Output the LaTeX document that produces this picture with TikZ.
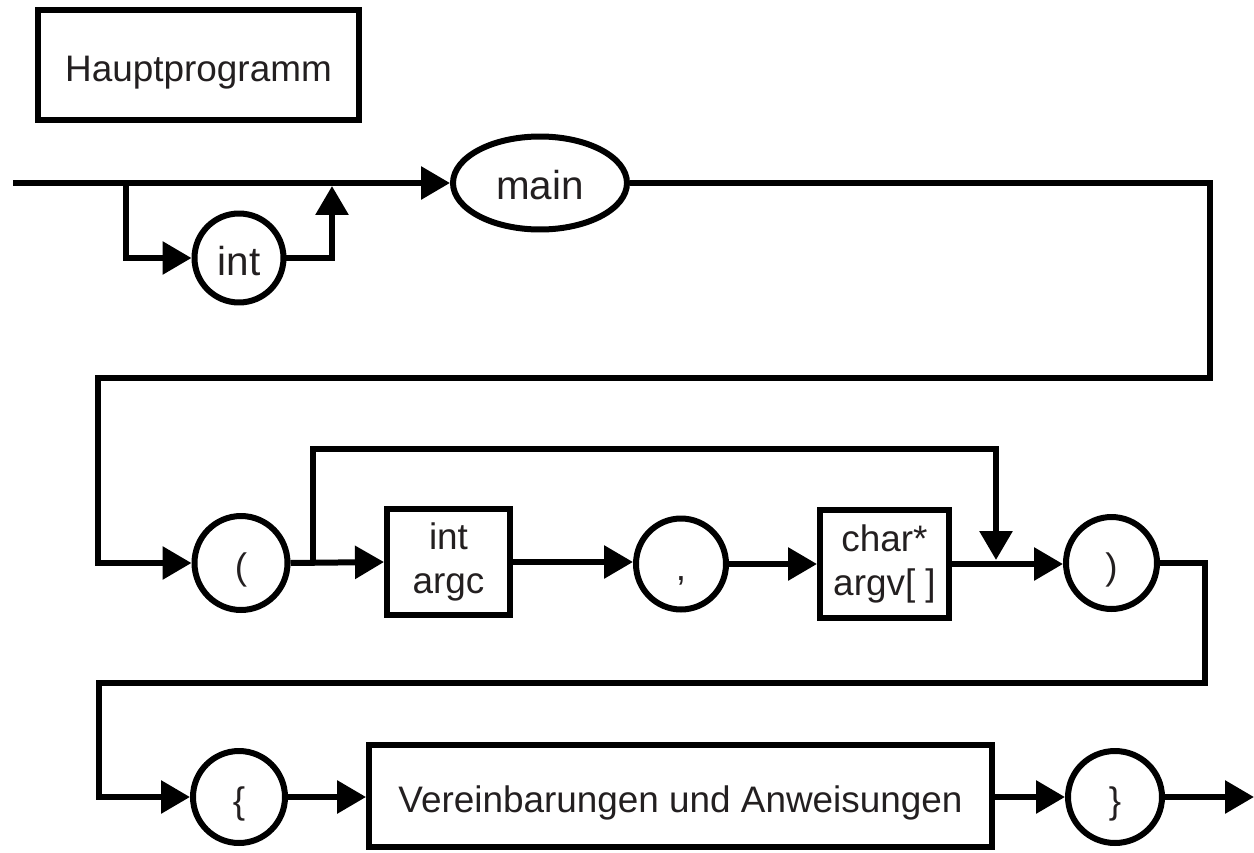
\documentclass[tikz,border=0pt]{standalone}
\usepackage{fontspec}
\setmainfont{Liberation Sans}
\usetikzlibrary{arrows.meta,shapes.geometric}
\definecolor{txt}{RGB}{35,31,32}
\begin{document}
\begin{tikzpicture}[x=0.02cm,y=-0.02cm,line width=0.12cm,
  every node/.style={font=\fontsize{21}{25}\selectfont,text=txt},
  big/.style={font=\fontsize{23}{27}\selectfont},
  box/.style={draw,rectangle,inner sep=0pt,align=center},
  onebox/.style={box,text height=19pt,text depth=0pt},
  oval/.style={draw,ellipse,inner sep=0pt,text height=19pt,text depth=0pt},
  arr/.style={-{Triangle[length=0.58cm,width=0.64cm]}}]
\useasboundingbox (0,0) rectangle (1254,852);
% nodes
\node[onebox,minimum width=6.42cm,minimum height=2.2cm] (title) at (198.5,65) {Hauptprogramm};
\node[oval,big,minimum width=1.78cm,minimum height=1.78cm,text height=20pt] (int1) at (239,258) {int};
\node[oval,big,minimum width=3.48cm,minimum height=1.86cm] (main) at (540,183) {main};
\node[oval,minimum width=1.86cm,minimum height=1.88cm] (lp) at (241,563) {(};
\node[box,minimum width=2.46cm,minimum height=2.14cm] (argc) at (448.5,562) {int\\argc};
\node[oval,minimum width=1.8cm,minimum height=1.82cm] (comma) at (681,564) {,};
\node[box,minimum width=2.58cm,minimum height=2.18cm] (argv) at (884.5,564) {char*\\argv[ ]};
\node[oval,minimum width=1.82cm,minimum height=1.84cm] (rp) at (1111.5,563) {)};
\node[oval,minimum width=1.84cm,minimum height=1.84cm] (lb) at (239,797) {\{};
\node[onebox,minimum width=12.46cm,minimum height=2.04cm] (body) at (680.5,796) {Vereinbarungen und Anweisungen};
\node[oval,minimum width=1.88cm,minimum height=1.84cm] (rb) at (1115,797) {\}};
% coordinates
\coordinate (s) at (13,183);
\coordinate (b1) at (126,183);
\coordinate (m1) at (332,186);
\coordinate (c1) at (1210,183);
\coordinate (c2) at (1210,378);
\coordinate (c3) at (98,378);
\coordinate (b2) at (313,563);
\coordinate (u1) at (313,449);
\coordinate (u2) at (996,449);
\coordinate (m2) at (996,560);
\coordinate (d0) at (1205,563);
\coordinate (d1) at (1205,683);
\coordinate (d2) at (99,683);
\coordinate (e) at (1254,797);
% row 1
\draw[arr] (s) -- (main.west);
\draw[arr] (b1) |- (int1.west);
\draw[arr] (int1.east) -| (m1);
\draw[arr] (main.east) -- (c1) -- (c2) -- (c3) |- (lp.west);
% row 2
\draw[arr] (lp.east) -- (argc.west);
\draw[arr] (b2) -- (u1) -- (u2) -- (m2);
\draw[arr] (argc.east) -- (argc.east -| comma.west);
\draw[arr] (comma.east) -- (comma.east -| argv.west);
\draw[arr] (argv.east) -- (argv.east -| rp.west);
\draw[arr] (rp.east) -- (d0) -- (d1) -- (d2) |- (lb.west);
% row 3
\draw[arr] (lb.east) -- (lb.east -| body.west);
\draw[arr] (body.east |- rb.west) -- (rb.west);
\draw[arr] (rb.east) -- (e);
\end{tikzpicture}
\end{document}
